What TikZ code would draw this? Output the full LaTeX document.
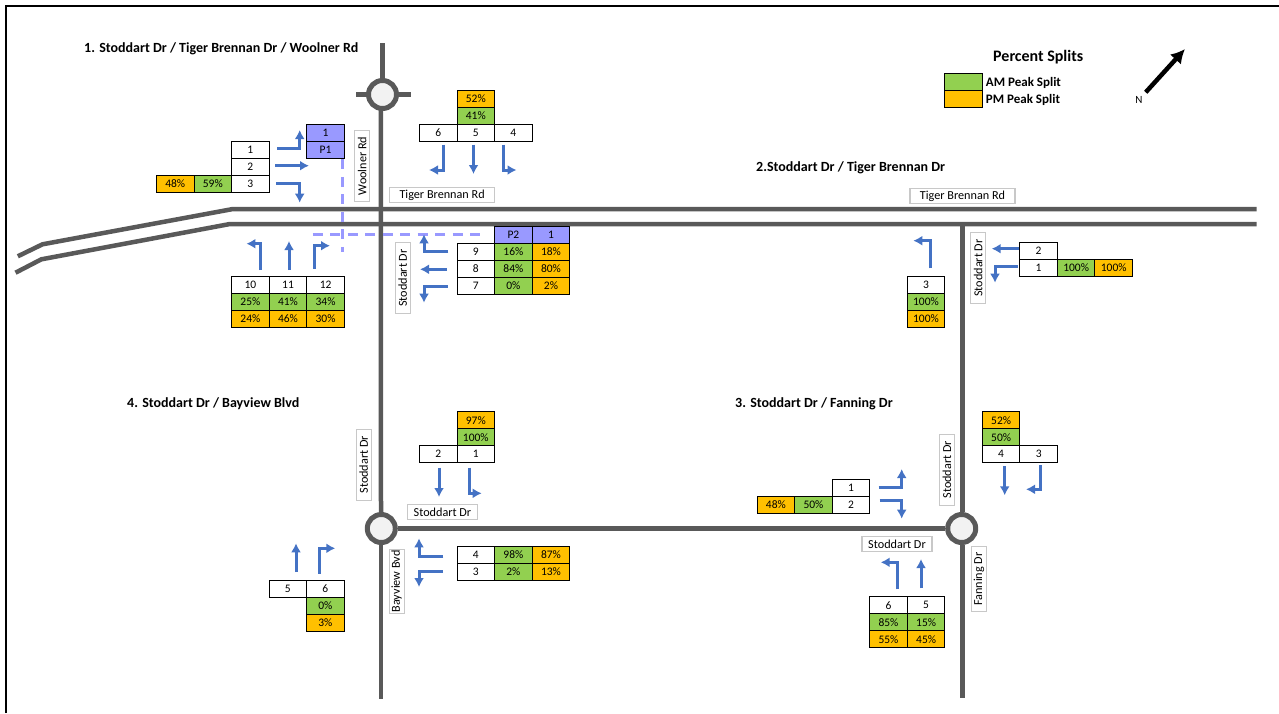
\documentclass[tikz,border=0pt]{standalone}
\usepackage{fontspec}
\setmainfont{Carlito}
\usepackage{tikz}
\usetikzlibrary{positioning,arrows.meta}
\definecolor{roadgrey}{RGB}{89,89,89}
\definecolor{amgreen}{RGB}{146,208,80}
\definecolor{pmorange}{RGB}{255,192,0}
\definecolor{sigblue}{RGB}{153,153,255}
\definecolor{movblue}{RGB}{68,114,196}
\definecolor{labgrey}{RGB}{200,200,200}

\begin{document}
\begin{tikzpicture}[
    x=1pt, y=-1pt,
    node distance=0pt,
    cell/.style={draw=black, line width=1pt, outer sep=0pt, inner sep=0pt, minimum width=37.6pt, minimum height=17pt, font=\fontsize{11.5}{13}\selectfont},
    num/.style={cell, fill=white},
    am/.style={cell, fill=amgreen},
    pm/.style={cell, fill=pmorange},
    sig/.style={cell, fill=sigblue},
    road/.style={draw=roadgrey, line width=4.5pt},
    rbt/.style={circle, draw=roadgrey, line width=5pt, fill=black!5, minimum size=28pt, inner sep=0pt},
    move/.style={draw=movblue, line width=3pt, -{Latex[length=9pt,width=10pt]}},
    ped/.style={draw=sigblue, line width=2.6pt, dash pattern=on 10pt off 7.5pt},
    roadlabel/.style={draw=labgrey, line width=1.2pt, fill=white, inner sep=0pt, minimum height=15pt, font=\fontsize{12.2}{14}\selectfont},
    title/.style={font=\fontsize{14}{16}\selectfont\bfseries, inner sep=0pt}
]
\useasboundingbox (0,0) rectangle (1279,713);
\draw[line width=2pt] (6,713) -- (6,6) -- (1279,6);

\coordinate (tbtopw2) at (17.8,256.3);
\coordinate (tbtopw1) at (42.5,244.3);
\coordinate (tbtopw0) at (233,209);
\coordinate (tbtope) at (1256.7,209);
\coordinate (tblowB2) at (15.5,272.7);
\coordinate (tblowB1) at (41.4,259.3);
\coordinate (tblowB0) at (230,224);
\coordinate (tblowe) at (1256.7,224);
\coordinate (wooln) at (382.5,43);
\coordinate (woolw) at (356,94.5);
\coordinate (woole) at (410.6,94.5);
\coordinate (woolbot) at (380.8,109);
\coordinate (stodw) at (381,699.3);
\coordinate (fann) at (962.5,224);
\coordinate (fans) at (962.5,697.7);

\node[rbt] (rbwool) at (382.5,94.5) {};
\node[rbt] (rbbay) at (381.3,528.5) {};
\node[rbt] (rbfan) at (961.7,528.5) {};

\draw[road] (tbtopw2) -- (tbtopw1) -- (tbtopw0) -- (tbtope);
\draw[road] (tblowB2) -- (tblowB1) -- (tblowB0) -- (tblowe);
\draw[road] (wooln) -- (rbwool);
\draw[road] (woolw) -- (rbwool);
\draw[road] (woole) -- (rbwool);
\draw[road] (woolbot) -- (stodw |- rbbay.north);
\draw[road] (stodw |- rbbay.south) -- (stodw);
\draw[road] (rbbay) -- (rbfan);
\draw[road] (fann) -- (fann |- rbfan.north);
\draw[road] (fans |- rbfan.south) -- (fans);

\draw[ped] (342.2,159.3) -- (342.2,251.7);
\draw[ped] (312.6,234.7) -- (481,234.7);

\node[title, anchor=west] (head1) at (84,48.5) {1. Stoddart Dr / Tiger Brennan Dr / Woolner Rd};
\node[title, anchor=west] (head2) at (756,168) {2.Stoddart Dr / Tiger Brennan Dr};
\node[title, anchor=west] (head3) at (735,404) {3. Stoddart Dr / Fanning Dr};
\node[title, anchor=west] (head4) at (127,404) {4. Stoddart Dr / Bayview Blvd};

\node[title, anchor=west, font=\fontsize{16}{18}\selectfont\bfseries] (legtitle) at (993,57.5) {Percent Splits};
\node[am, anchor=north west, minimum width=38pt] (legam) at (944.3,73.3) {};
\node[pm, below=of legam, minimum width=38pt] (legpm) {};
\node[anchor=west, inner sep=0pt, font=\fontsize{13}{14}\selectfont\bfseries] (legamt) at (985.7,82.8) {AM Peak Split};
\node[anchor=west, inner sep=0pt, font=\fontsize{13}{14}\selectfont\bfseries] (legpmt) at (985.7,99.5) {PM Peak Split};
\node[inner sep=0pt, font=\fontsize{11}{12}\selectfont] (north) at (1139,100) {N};
\coordinate (northtail) at (1145.7,92.3);
\coordinate (northtip) at (1185,49);
\draw[line width=4.5pt, -{Latex[length=14pt,width=15pt]}] (northtail) -- (northtip);

\node[roadlabel, minimum width=105pt] (lab1) at (442.1,195) {Tiger Brennan Rd};
\node[roadlabel, minimum width=105pt] (lab2) at (962.5,196) {Tiger Brennan Rd};
\node[roadlabel, rotate=90, minimum width=71pt] (lab3) at (362.2,166) {Woolner Rd};
\node[roadlabel, rotate=90, minimum width=71pt] (lab4) at (402.7,278) {Stoddart Dr};
\node[roadlabel, rotate=90, minimum width=71pt] (lab5) at (978.2,268) {Stoddart Dr};
\node[roadlabel, rotate=90, minimum width=71pt] (lab6) at (363.8,464.7) {Stoddart Dr};
\node[roadlabel, rotate=90, minimum width=64pt] (lab7) at (396.7,581.3) {Bayview Bvd};
\node[roadlabel, minimum width=70pt] (lab8) at (442.5,512.3) {Stoddart Dr};
\node[roadlabel, rotate=90, minimum width=71pt] (lab9) at (946.8,469.7) {Stoddart Dr};
\node[roadlabel, rotate=90, minimum width=65pt] (lab10) at (979,579.2) {Fanning Dr};
\node[roadlabel, minimum width=70pt] (lab11) at (897,544.2) {Stoddart Dr};

\node[num, anchor=north west] (a1) at (231.6,141) {1};
\node[num, below=of a1] (a2) {2};
\node[num, below=of a2] (a3) {3};
\node[am, left=of a3] (a3am) {59\%};
\node[pm, left=of a3am] (a3pm) {48\%};
\node[sig, anchor=north west] (p1a) at (306.8,124) {1};
\node[sig, below=of p1a] (p1b) {P1};

\node[pm, anchor=north west] (b5pm) at (457,90.3) {52\%};
\node[am, below=of b5pm] (b5am) {41\%};
\node[num, below=of b5am] (b5) {5};
\node[num, left=of b5] (b6) {6};
\node[num, right=of b5] (b4) {4};

\node[sig, anchor=north west] (p2a) at (494.6,226) {P2};
\node[sig, right=of p2a] (p2b) {1};
\node[am, below=of p2a] (c9am) {16\%};
\node[pm, right=of c9am] (c9pm) {18\%};
\node[num, left=of c9am] (c9) {9};
\node[am, below=of c9am] (c8am) {84\%};
\node[pm, right=of c8am] (c8pm) {80\%};
\node[num, left=of c8am] (c8) {8};
\node[am, below=of c8am] (c7am) {0\%};
\node[pm, right=of c7am] (c7pm) {2\%};
\node[num, left=of c7am] (c7) {7};

\node[num, anchor=north west] (d10) at (231.6,276.3) {10};
\node[num, right=of d10] (d11) {11};
\node[num, right=of d11] (d12) {12};
\node[am, below=of d10] (d10am) {25\%};
\node[am, below=of d11] (d11am) {41\%};
\node[am, below=of d12] (d12am) {34\%};
\node[pm, below=of d10am] (d10pm) {24\%};
\node[pm, below=of d11am] (d11pm) {46\%};
\node[pm, below=of d12am] (d12pm) {30\%};

\node[num, anchor=north west] (e2) at (1019.7,242.3) {2};
\node[num, below=of e2] (e1) {1};
\node[am, right=of e1] (e1am) {100\%};
\node[pm, right=of e1am] (e1pm) {100\%};
\node[num, anchor=north west] (f3) at (907.2,276.3) {3};
\node[am, below=of f3] (f3am) {100\%};
\node[pm, below=of f3am] (f3pm) {100\%};

\node[pm, anchor=north west] (g4pm) at (982.3,411.7) {52\%};
\node[am, below=of g4pm] (g4am) {50\%};
\node[num, below=of g4am] (g4) {4};
\node[num, right=of g4] (g3) {3};
\node[num, anchor=north west] (h1) at (832.3,479) {1};
\node[num, below=of h1] (h2) {2};
\node[am, left=of h2] (h2am) {50\%};
\node[pm, left=of h2am] (h2pm) {48\%};
\node[num, anchor=north west] (i6) at (869.7,596.7) {6};
\node[num, right=of i6] (i5) {5};
\node[am, below=of i6] (i6am) {85\%};
\node[am, below=of i5] (i5am) {15\%};
\node[pm, below=of i6am] (i6pm) {55\%};
\node[pm, below=of i5am] (i5pm) {45\%};

\node[pm, anchor=north west] (j1pm) at (457,411.7) {97\%};
\node[am, below=of j1pm] (j1am) {100\%};
\node[num, below=of j1am] (j1) {1};
\node[num, left=of j1] (j2) {2};
\node[num, anchor=north west] (k4) at (457,546.3) {4};
\node[am, right=of k4] (k4am) {98\%};
\node[pm, right=of k4am] (k4pm) {87\%};
\node[num, below=of k4] (k3) {3};
\node[am, right=of k3] (k3am) {2\%};
\node[pm, right=of k3am] (k3pm) {13\%};
\node[num, anchor=north west] (l5) at (269,580) {5};
\node[num, right=of l5] (l6) {6};
\node[am, below=of l6] (l6am) {0\%};
\node[pm, below=of l6am] (l6pm) {3\%};

\draw[move] (277,148.3) -| (299.7,130);
\draw[move] (275.2,165.7) -- (309,165.7);
\draw[move] (276.4,183) -| (299.7,202.7);
\draw[move] (443.2,144.7) |- (429,170);
\draw[move] (473.5,144.7) -- (473.5,174);
\draw[move] (503.9,144.7) |- (516.5,170);
\draw[move] (260.5,270) |- (246.4,243.7);
\draw[move] (289,270) -- (289,241);
\draw[move] (314.5,268.7) |- (330,245.7);
\draw[move] (448.4,251.7) -| (424,234.3);
\draw[move] (447,269.3) -- (420,269.3);
\draw[move] (447.6,286) -| (424,302.7);
\draw[move] (1019,248.7) -- (991.7,248.7);
\draw[move] (1017.7,266) -| (995,282.7);
\draw[move] (930,268.3) |- (913.3,240.7);
\draw[move] (1004.7,466) -- (1004.7,495.3);
\draw[move] (1040,465.3) |- (1026,489.3);
\draw[move] (878.7,487.3) -| (901.7,469);
\draw[move] (879.7,500) -| (901.7,518.7);
\draw[move] (897.3,589.3) |- (880.7,562.3);
\draw[move] (921,588.3) -- (921,559);
\draw[move] (439,467.7) -- (439,497);
\draw[move] (469.3,467.7) |- (481.7,493.3);
\draw[move] (443.3,556) -| (419,538.3);
\draw[move] (443,571) -| (419,587);
\draw[move] (296,572) -- (296,543.3);
\draw[move] (319.3,573.7) |- (335.3,548.3);
\end{tikzpicture}
\end{document}
